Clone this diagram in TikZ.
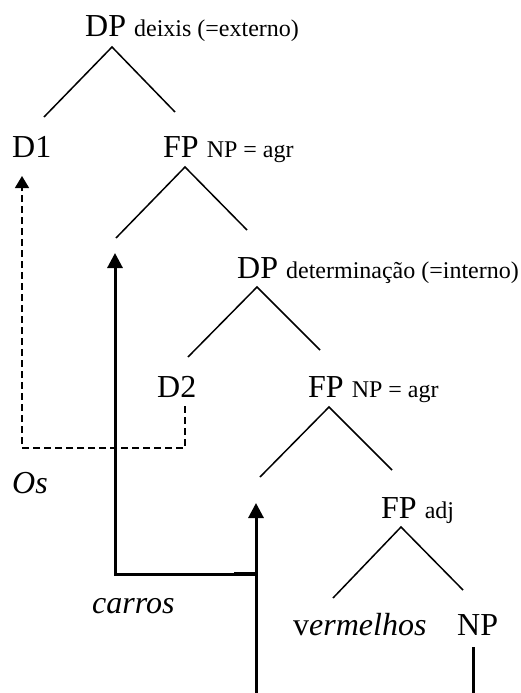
\documentclass[tikz,border=0pt]{standalone}
\usepackage{fontspec}
\setmainfont{Liberation Serif}
\usetikzlibrary{arrows.meta}
\newcommand\bigf{\fontsize{32}{36}\selectfont}
\newcommand\smf{\fontsize{24}{27}\selectfont}
\begin{document}
\begin{tikzpicture}[x=1pt,y=-1pt,
  lbl/.style={anchor=base west,inner sep=0pt,font=\bigf},
  branch/.style={line width=1.5pt},
  mover/.style={line width=3pt,-{Triangle[length=15pt,width=15pt]}},
  dashmove/.style={line width=1.5pt,dash pattern=on 7pt off 4pt,-{Triangle[length=12pt,width=14pt]}}]
\useasboundingbox (0,0) rectangle (520,693);
% labels
\node[lbl] (dp1) at (85,37) {DP {\smf deixis (=externo)}};
\node[lbl] (d1) at (12,157) {D1};
\node[lbl] (fp1) at (163,157) {FP {\smf NP = agr}};
\node[lbl] (dp2) at (237,278) {DP {\smf determinação (=interno)}};
\node[lbl] (d2) at (157,397) {D2};
\node[lbl] (fp2) at (308,397) {FP {\smf NP = agr}};
\node[lbl] (os) at (12,493) {\itshape Os};
\node[lbl] (fp3) at (381,518) {FP {\smf adj}};
\node[lbl] (carros) at (92,613) {\itshape carros};
\node[lbl] (verm) at (293,635) {v\textit{ermelhos}};
\node[lbl] (np) at (457,635) {NP};
% branch points
\coordinate (a1) at (112,47);  \coordinate (a1l) at (44,117);  \coordinate (a1r) at (175,112);
\coordinate (a2) at (185,167); \coordinate (a2l) at (116,238); \coordinate (a2r) at (247,230);
\coordinate (a3) at (257,287); \coordinate (a3l) at (188,357); \coordinate (a3r) at (320,350);
\coordinate (a4) at (329,407); \coordinate (a4l) at (260,477); \coordinate (a4r) at (392,470);
\coordinate (a5) at (401,527); \coordinate (a5l) at (333,598); \coordinate (a5r) at (463,590);
\foreach \n in {1,...,5}{\draw[branch] (a\n l) -- (a\n) -- (a\n r);}
% movement paths
\coordinate (d2s) at (185,406);
\coordinate (d1s) at (22,176);
\draw[dashmove] (d2s) -- (185,448) -- (22,448) -- (d1s);
\coordinate (t1) at (115,253);
\coordinate (j1) at (256,574);
\coordinate (t2) at (256,503);
\coordinate (b2) at (256,693);
\draw[mover] (j1) -- (115,574) -- (t1);
\draw[line width=3.5pt] (234,574) -- (j1);
\draw[mover] (b2) -- (t2);
\coordinate (nps) at (473,647);
\coordinate (npb) at (473,693);
\draw[line width=3pt] (nps) -- (npb);
\end{tikzpicture}
\end{document}
